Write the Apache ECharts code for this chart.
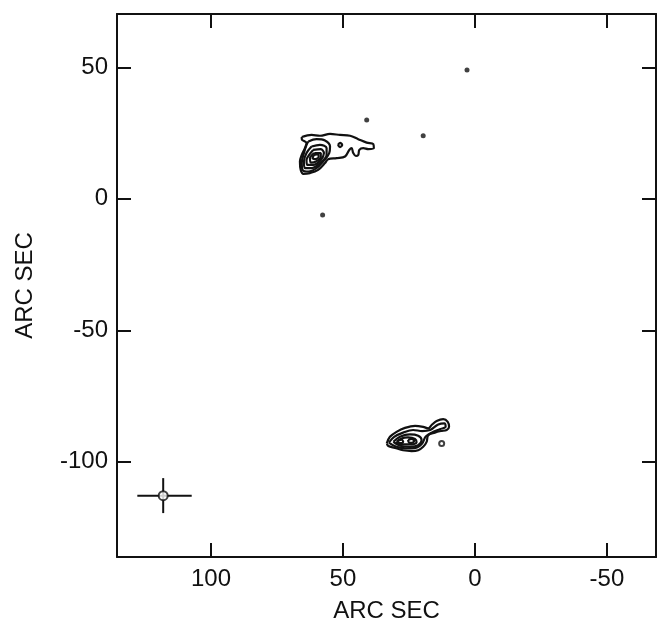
<!DOCTYPE html>
<html>
<head>
<meta charset="utf-8">
<script src="https://cdn.jsdelivr.net/npm/echarts@6/dist/echarts.min.js"></script>
<style>html,body{margin:0;padding:0;background:#fff}#c{width:659px;height:629px}</style>
</head>
<body>
<div id="c"></div>
<script>
// Axis tick values (arc sec)
var xTicks = [100, 50, 0, -50];
var yTicks = [50, 0, -50, -100];

// Northern source contours [RA offset, Dec offset] (arc sec)
var nOuter = [[65.6,23.5],[61.9,24.3],[58.7,24.0],[54.9,24.7],[51.1,24.3],[47.3,24.0],[44.2,22.7],[41.0,21.4],[38.5,20.8],[38.3,19.3],[40.4,18.9],[42.3,19.3],[43.8,18.6],[44.2,16.7],[45.1,16.3],[46.1,17.4],[46.7,19.3],[47.6,18.6],[49.2,16.1],[52.4,15.5],[55.6,15.1],[56.8,13.6],[59.4,11.0],[62.5,9.8],[65.0,9.5],[66.0,11.0],[66.3,14.2],[65.6,16.7],[64.4,19.3],[63.8,21.2],[65.6,22.7],[65.6,23.5]];
var nHole = [[51.9,20.5],[51.1,21.3],[50.3,20.5],[51.1,19.7],[51.9,20.5]];
var nC2 = [[63.1,21.8],[60.0,22.7],[56.8,22.2],[54.9,19.9],[55.2,17.4],[57.5,14.2],[60.0,11.7],[63.1,10.4],[65.3,11.0],[65.6,13.6],[64.8,17.4],[63.8,20.5],[63.1,21.8]];
var nC3 = [[61.9,19.9],[58.7,20.5],[56.2,19.3],[56.2,16.7],[58.7,13.6],[61.9,11.7],[64.4,11.7],[64.8,14.2],[63.8,17.4],[61.9,19.9]];
var nC4 = [[61.3,18.6],[58.4,18.9],[57.2,17.4],[58.4,14.8],[61.3,12.9],[63.5,12.9],[63.8,14.8],[62.8,16.7],[61.3,18.6]];
var nC5 = [[60.6,17.4],[58.4,17.4],[58.4,15.9],[60.2,14.2],[62.2,13.8],[62.5,15.5],[61.7,16.7],[60.6,17.4]];
var nC6 = [[61.0,16.7],[59.4,17.0],[59.2,15.9],[60.6,15.1],[61.5,15.5],[61.0,16.7]];

// Southern source contours
var sOuter = [[33.4,-93.0],[32.2,-90.5],[29.7,-88.6],[26.5,-87.1],[22.7,-86.3],[19.6,-86.7],[17.7,-87.3],[16.4,-86.0],[14.5,-84.5],[12.0,-83.8],[10.3,-84.8],[9.8,-86.7],[10.7,-87.9],[12.9,-88.3],[15.2,-88.9],[17.7,-89.9],[18.3,-92.4],[19.6,-94.3],[21.5,-95.6],[24.0,-95.9],[27.2,-95.6],[30.3,-94.7],[32.8,-94.0],[33.4,-93.0]];
var sC2 = [[32.6,-92.7],[30.6,-90.5],[27.2,-88.9],[23.4,-87.9],[20.0,-88.3],[17.0,-87.9],[13.9,-85.8],[11.6,-85.4],[11.1,-86.7],[13.3,-87.6],[16.4,-88.9],[18.7,-90.5],[20.0,-93.0],[22.5,-94.7],[26.3,-94.9],[30.0,-94.2],[32.6,-92.7]];
var sC3 = [[30.9,-92.4],[28.4,-90.5],[24.6,-89.6],[21.5,-90.1],[20.2,-91.7],[21.5,-93.7],[24.6,-94.3],[28.4,-93.9],[30.9,-92.4]];
var sC4 = [[29.7,-92.4],[27.8,-91.1],[25.3,-90.7],[22.7,-91.3],[22.1,-92.6],[24.0,-93.4],[27.2,-93.4],[29.3,-93.2],[29.7,-92.4]];
var sC5 = [[25.3,-91.7],[24.0,-91.3],[23.0,-92.0],[23.8,-92.8],[25.0,-92.7],[25.3,-91.7]];
var sC6 = [[29.1,-91.9],[27.8,-91.6],[27.2,-92.4],[28.0,-92.9],[29.1,-92.7],[29.1,-91.9]];

// Isolated spots
var spots = [[41.0,30.0],[19.6,24.0],[57.7,-6.1],[3.0,49.0]];
var smallRing = [[12.6,-93.0]];

// Beam / error cross
var crossH = [[127.9,-112.9],[107.3,-112.9]];
var crossV = [[118.1,-106.2],[118.1,-119.5]];
var beamCentre = [[118.1,-112.9]];

var X_MIN = -68.6, X_MAX = 135.6, Y_MIN = -136.2, Y_MAX = 70.3;

var INK = '#111';
var contours = [nOuter, nHole, nC2, nC3, nC4, nC5, nC6, sOuter, sC2, sC3, sC4, sC5, sC6];
var series = contours.map(function (d) {
  return {type: 'line', data: d, showSymbol: false, smooth: 0.35, silent: true,
          lineStyle: {color: INK, width: 2.2}, xAxisIndex: 0, yAxisIndex: 0};
});
series.push({type: 'line', data: crossH, showSymbol: false, lineStyle: {color: INK, width: 2}});
series.push({type: 'line', data: crossV, showSymbol: false, lineStyle: {color: INK, width: 2}});
series.push({type: 'scatter', data: beamCentre, symbol: 'emptyCircle', symbolSize: 9, z: 5,
             itemStyle: {color: INK, borderColor: INK, borderWidth: 2.2}});
series.push({type: 'scatter', data: spots, symbolSize: 5, itemStyle: {color: INK}});
series.push({type: 'scatter', data: smallRing, symbol: 'emptyCircle', symbolSize: 5,
             itemStyle: {color: INK, borderColor: INK, borderWidth: 1.6}});

var font = 'Liberation Sans';
var lineS = {show: true, onZero: false, lineStyle: {color: INK, width: 2}};
var tickS = function (vals) { return {show: true, inside: true, length: 14, customValues: vals, lineStyle: {color: INK, width: 2}}; };

var option = {
  animation: false,
  backgroundColor: '#fff',
  grid: {left: 117, right: 3, top: 14, bottom: 72},
  xAxis: [{
    type: 'value', inverse: true, min: X_MIN, max: X_MAX, position: 'bottom',
    name: 'ARC SEC', nameLocation: 'middle', nameGap: 42,
    nameTextStyle: {fontFamily: font, fontSize: 24, color: INK},
    axisLine: lineS, axisTick: tickS(xTicks), splitLine: {show: false},
    axisLabel: {customValues: xTicks, fontFamily: font, fontSize: 24, color: INK, margin: 10,
                formatter: function (v) { return String(v); }}
  }, {
    type: 'value', inverse: true, min: X_MIN, max: X_MAX, position: 'top',
    axisLine: lineS, axisTick: tickS(xTicks), axisLabel: {show: false}, splitLine: {show: false}
  }],
  yAxis: [{
    type: 'value', min: Y_MIN, max: Y_MAX, position: 'left',
    name: 'ARC SEC', nameLocation: 'middle', nameGap: 80, nameRotate: 90,
    nameTextStyle: {fontFamily: font, fontSize: 24, color: INK},
    axisLine: lineS, axisTick: tickS(yTicks), splitLine: {show: false},
    axisLabel: {customValues: yTicks, fontFamily: font, fontSize: 24, color: INK, margin: 9,
                formatter: function (v) { return String(v); }}
  }, {
    type: 'value', min: Y_MIN, max: Y_MAX, position: 'right',
    axisLine: lineS, axisTick: tickS(yTicks), axisLabel: {show: false}, splitLine: {show: false}
  }],
  series: series
};

var chart = echarts.init(document.getElementById('c'), null, {renderer: 'canvas'});
chart.setOption(option);
</script>
</body>
</html>
